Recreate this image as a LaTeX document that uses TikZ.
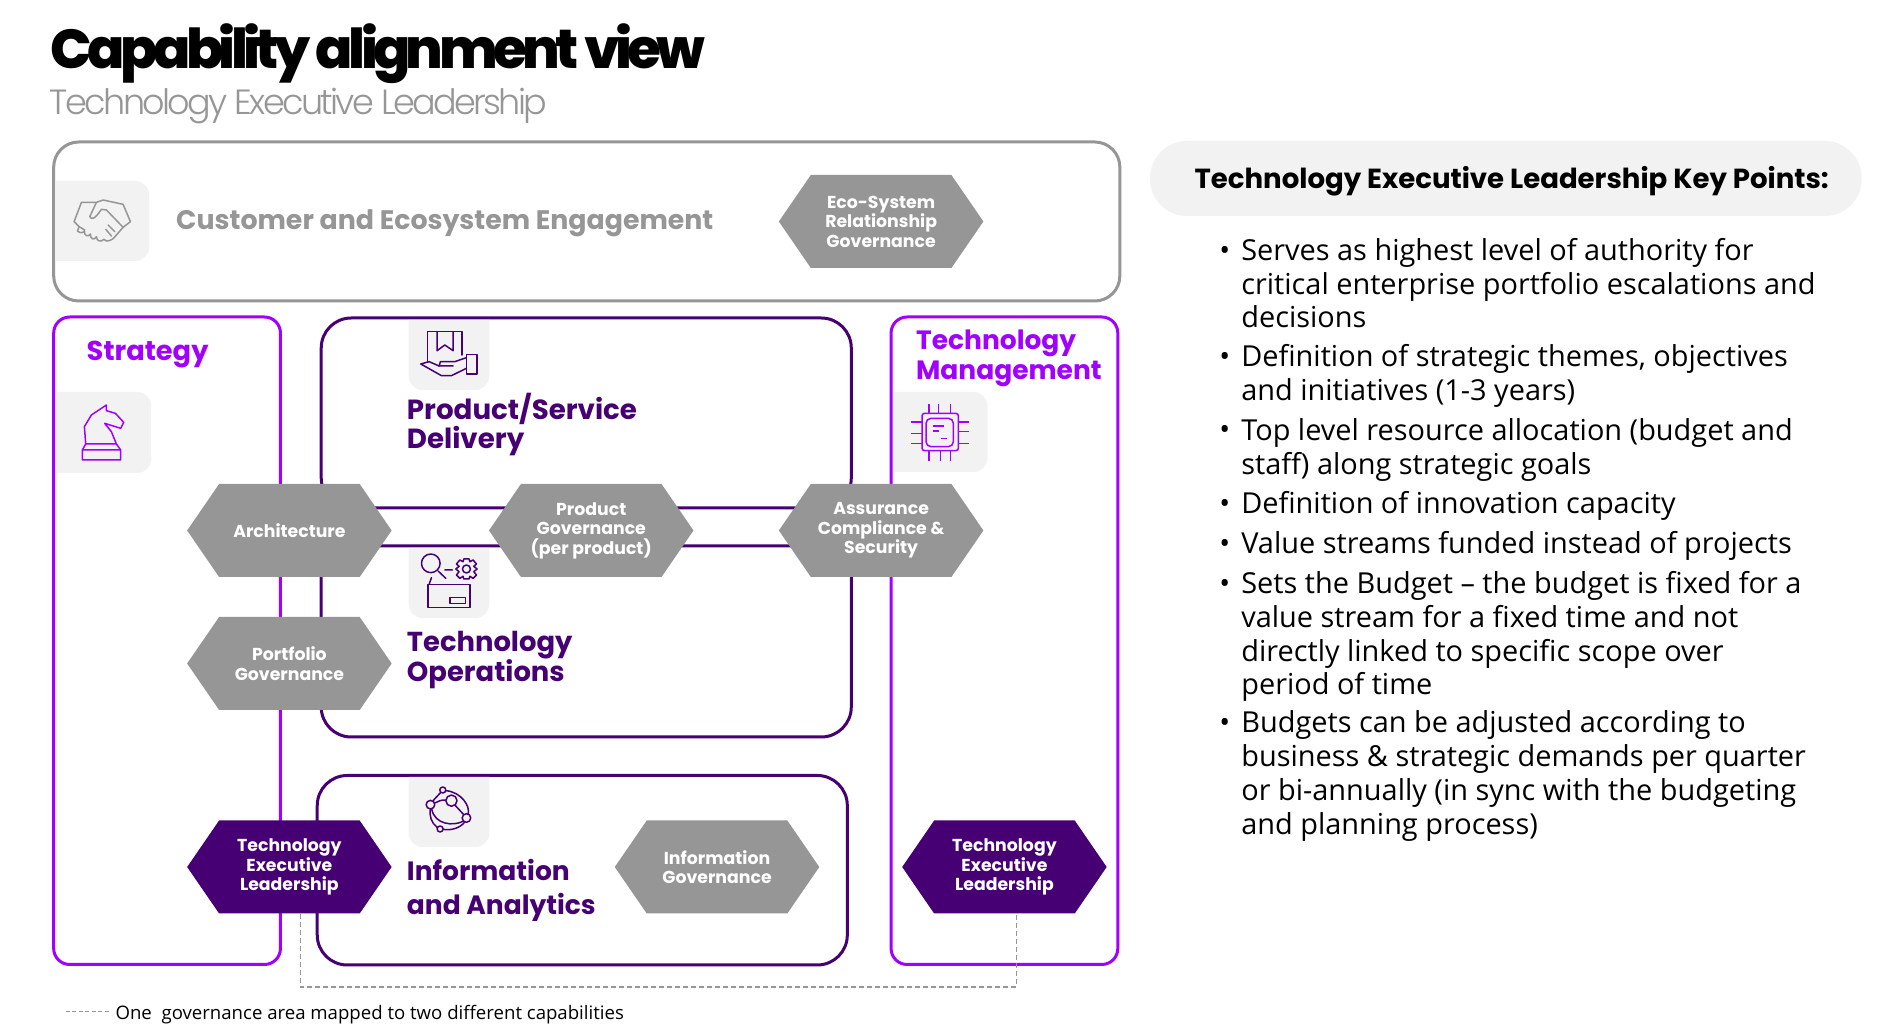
\documentclass[tikz,border=0pt]{standalone}
\usepackage{fontspec}
\usetikzlibrary{shapes.symbols,calc}
\setmainfont{Open Sans}
\newfontfamily\titlef[LetterSpace=-8.5]{Poppins ExtraBold}
\newfontfamily\subf[LetterSpace=-7.5]{Poppins Light}
\newfontfamily\headf{Poppins}
\newfontfamily\legf{Open Sans}
\definecolor{midgray}{HTML}{969696}
\definecolor{tilegray}{HTML}{F2F2F2}
\definecolor{deep}{HTML}{460073}
\definecolor{bright}{HTML}{A100FF}
\tikzset{
  x=.9945pt,y=-1pt,
  framebox/.style={line width=3pt,fill=none},
  hexbox/.style={signal,signal to=west and east,signal from=nowhere,signal pointer angle=111,
    minimum width=204.5pt,minimum height=93pt,inner sep=0pt,fill=midgray,text=white,align=center,
    font=\headf\bfseries\fontsize{17.3}{19.5}\selectfont},
  hexdeep/.style={hexbox,fill=deep},
  tile/.style={fill=tilegray},
  heading/.style={anchor=base west,inner sep=0pt,align=left,font=\headf\bfseries\fontsize{27}{29}\selectfont},
  keyline/.style={anchor=base west,inner sep=0pt,align=left,font=\fontsize{28.9}{33.8}\selectfont},
  icon/.style={line width=1.1pt,line join=round,line cap=round,fill=none},
  dashlink/.style={midgray,line width=1.6pt,dash pattern=on 5pt off 3pt},
}
\newcommand{\keypoint}[3]{%
  \node[keyline] at (1226,#1) {•};
  \node[keyline] at (1248,#2) {#3};}
\begin{document}
\begin{tikzpicture}
\useasboundingbox (0,0) rectangle (1906.5,1035);
\fill[white] (0,0) rectangle (1906.5,1035);
% titles
\node[anchor=base west,inner sep=0pt,font=\titlef\fontsize{55}{55}\selectfont] (title) at (51,69) {Capability alignment view};
\node[anchor=base west,inner sep=0pt,text=midgray,font=\subf\fontsize{35}{35}\selectfont] (subtitle) at (50,115) {Technology Executive Leadership};
% frames
\draw[framebox,midgray,rounded corners=25pt] (54,142) rectangle (1126,301);
\draw[framebox,bright,rounded corners=16pt] (54,317) rectangle (282,964.5);
\draw[framebox,bright,rounded corners=16pt] (896,317) rectangle (1124,964.5);
\draw[framebox,deep,rounded corners=30pt] (323,318) rectangle (856,508);
\draw[framebox,deep,rounded corners=30pt] (323,546) rectangle (856,737);
\draw[framebox,deep,rounded corners=30pt] (319,775.5) rectangle (852,965);
% tiles
\fill[tile] (56,181) [rounded corners=14pt] -- (150,181) -- (150,261) [sharp corners] -- (56,261) -- cycle;
\fill[tile] (56,392) [rounded corners=14pt] -- (152,392) -- (152,473) [sharp corners] -- (56,473) -- cycle;
\fill[tile] (898,392) [rounded corners=14pt] -- (993,392) -- (993,472) [sharp corners] -- (898,472) -- cycle;
\fill[tile,rounded corners=14pt] (411,320) [sharp corners] -- (492,320) [rounded corners=14pt] -- (492,390) -- (411,390) [sharp corners] -- cycle;
\fill[tile,rounded corners=14pt] (411,548) [sharp corners] -- (492,548) [rounded corners=14pt] -- (492,618) -- (411,618) [sharp corners] -- cycle;
\fill[tile,rounded corners=14pt] (411,777) [sharp corners] -- (492,777) [rounded corners=14pt] -- (492,847) -- (411,847) [sharp corners] -- cycle;
% handshake
\begin{scope}[shift={(40,170)},x=.3333pt,y=-.3333pt,icon,midgray,line width=1.5pt]
\draw (170,97) -- (125,97) -- (103,155) -- (118,170) -- (113,183) .. controls (122,190) and (130,190) .. (134,182) .. controls (132,198) and (146,202) .. (152,192) .. controls (150,208) and (165,212) .. (170,200) .. controls (170,214) and (185,218) .. (192,208) -- (200,213) .. controls (215,213) and (222,205) .. (230,195) -- (250,172) -- (272,155) -- (250,103) -- (190,90) -- (170,97) -- (150,140) .. controls (155,150) and (165,148) .. (185,118) -- (200,120) -- (250,172);
\draw (205,165) -- (225,185) (198,178) -- (215,198) (118,170) -- (135,180);
\end{scope}
% knight
\begin{scope}[shift={(50,390)},x=.3333pt,y=-.3333pt,icon,bright,line width=1.5pt]
\draw (98,180) rectangle (213,210) (98,180) -- (108,162) -- (200,162) -- (213,180);
\draw (108,162) -- (104,110) -- (125,75) -- (170,45) -- (170,62) -- (197,70) -- (222,97) -- (213,115) -- (165,100) -- (185,125) -- (200,162);
\end{scope}
% chip
\begin{scope}[shift={(905,390)},x=.3333pt,y=-.3333pt,icon,bright,line width=1.5pt,line cap=butt]
\draw[rounded corners=2.5pt] (66,70) rectangle (175,182);
\draw[rounded corners=5pt] (78,85) rectangle (160,170);
\draw (87,43) -- (87,70) (115,43) -- (115,70) (152,43) -- (152,70) (87,182) -- (87,212) (122,182) -- (122,212) (152,182) -- (152,212)
 (33,96) -- (66,96) (33,131) -- (66,131) (33,160) -- (66,160) (175,96) -- (207,96) (175,124) -- (207,124) (175,160) -- (207,160)
 (100,108) -- (133,108) (100,123) -- (118,123) (122,145) -- (140,145);
\end{scope}
% book in hand
\begin{scope}[shift={(402,310)},x=.3333pt,y=-.3333pt,icon,deep,line width=1.5pt]
\draw (83,155) -- (83,65) -- (187,65) -- (187,135);
\draw (112,65) -- (112,122) -- (135,105) -- (160,122) -- (160,65);
\draw (200,143) -- (165,155) -- (122,155) -- (118,168) -- (160,168);
\draw (118,168) -- (88,155) -- (63,162) -- (125,197) -- (155,197) -- (200,175);
\draw (200,133) rectangle (232,192);
\end{scope}
% search and gear
\begin{scope}[shift={(402,545)},x=.3333pt,y=-.3333pt,icon,deep,line width=1.5pt]
\draw (93,55) circle[radius=9.3pt];
\draw (115,78) -- (138,100) (135,75) -- (158,75) (95,98) -- (88,118);
\draw (200,72) circle[radius=4pt];
\draw (192,42) -- (208,42) -- (210,50) -- (220,45) -- (230,57) -- (222,64) -- (232,72) -- (222,80) -- (230,90) -- (220,100) -- (210,94) -- (208,102) -- (192,102) -- (190,94) -- (180,100) -- (170,90) -- (178,80) -- (168,72) -- (178,64) -- (170,57) -- (180,45) -- (190,50) -- cycle;
\draw (85,118) rectangle (210,188) (150,157) rectangle (197,175);
\end{scope}
% network
\begin{scope}[shift={(402,768)},x=.3333pt,y=-.3333pt,icon,deep,line width=1.5pt]
\draw (138,68) .. controls (185,72) and (212,115) .. (205,138);
\draw (195,162) .. controls (180,182) and (150,188) .. (130,184);
\draw (112,178) .. controls (95,165) and (88,145) .. (92,122);
\draw (105,105) .. controls (115,100) and (125,95) .. (138,96);
\draw (96,124) .. controls (105,170) and (160,175) .. (190,160);
\draw (166,112) -- (192,140) (124,72) -- (100,98);
\draw[fill=tilegray] (129,66) circle[radius=3pt] (92,110) circle[radius=4.3pt] (155,98) circle[radius=5.6pt] (200,150) circle[radius=4.3pt] (121,183) circle[radius=3pt];
\end{scope}
% capability names
\node[heading,text=midgray,font=\headf\bfseries\fontsize{26.8}{29}\selectfont] (customer) at (177,230) {Customer and Ecosystem Engagement};
\node[heading,text=bright,font=\headf\bfseries\fontsize{27.3}{29}\selectfont] (strategy) at (87,361) {Strategy};
\node[heading,text=bright,font=\headf\bfseries\fontsize{26.5}{30}\selectfont] (techmgmt) at (921,380) {Technology\\Management};
\node[heading,text=deep,font=\headf\bfseries\fontsize{27.7}{29.5}\selectfont] (product) at (409,449) {Product/Service\\Delivery};
\node[heading,text=deep,font=\headf\bfseries\fontsize{27.4}{30}\selectfont] (techops) at (409,682) {Technology\\Operations};
\node[heading,text=deep,font=\headf\bfseries\fontsize{26.5}{34}\selectfont] (infoan) at (409,915) {Information\\and Analytics};
% hexagons
\node[hexbox] (eco) at (886,221.5) {Eco-System\\Relationship\\Governance};
\node[hexbox] (arch) at (291,530.5) {Architecture};
\node[hexbox] (pgov) at (594.5,530.5) {Product\\Governance\\(per product)};
\node[hexbox] (assur) at (886,530.5) {Assurance\\Compliance \&\\Security};
\node[hexbox] (port) at (291,663.5) {Portfolio\\Governance};
\node[hexdeep] (tell) at (291,867) {Technology\\Executive\\Leadership};
\node[hexbox] (igov) at (721,867) {Information\\Governance};
\node[hexdeep] (telr) at (1010,867) {Technology\\Executive\\Leadership};
% dashed link
\coordinate (dashL) at (302,987);
\coordinate (dashR) at (1022,987);
\draw[dashlink] (tell.south -| dashL) -- (dashL) -- (dashR) -- (telr.south -| dashR);
% legend
\coordinate (legA) at (66,1011.5);
\coordinate (legB) at (110,1011.5);
\draw[midgray,line width=1.2pt,dash pattern=on 4pt off 2.5pt] (legA) -- (legB);
\node[anchor=base west,inner sep=0pt,font=\legf\fontsize{18.6}{20}\selectfont] (legend) at (116,1020) {One\ \ governance area mapped to two different capabilities};
% key points
\fill[tilegray] (1156.4,141) [rounded corners=37pt] -- (1872,141) -- (1872,216) -- (1156.4,216) -- cycle;
\node[anchor=base west,inner sep=0pt,font=\headf\bfseries\fontsize{27.6}{30}\selectfont] (keyhead) at (1201,189) {Technology Executive Leadership Key Points:};
\keypoint{260.3}{328}{Serves as highest level of authority for\\critical enterprise portfolio escalations and\\decisions}
\keypoint{366.8}{400.6}{Definition of strategic themes, objectives\\and initiatives (1-3 years)}
\keypoint{440}{474.2}{Top level resource allocation (budget and\\staff) along strategic goals}
\keypoint{514}{514}{Definition of innovation capacity}
\keypoint{553.8}{553.8}{Value streams funded instead of projects}
\keypoint{593.6}{695}{Sets the Budget – the budget is fixed for a\\value stream for a fixed time and not\\directly linked to specific scope over\\period of time}
\keypoint{733}{834.4}{Budgets can be adjusted according to\\business \& strategic demands per quarter\\or bi-annually (in sync with the budgeting\\and planning process)}
\end{tikzpicture}
\end{document}
